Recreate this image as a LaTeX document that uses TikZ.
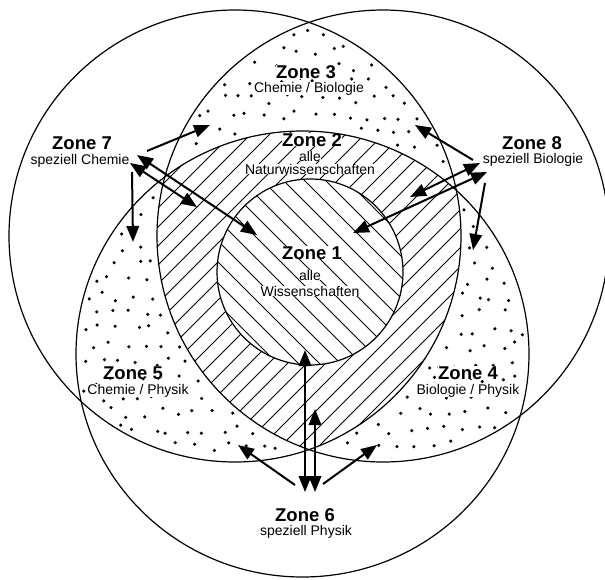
\documentclass[tikz,border=0pt]{standalone}
\usepackage{fontspec}
\setmainfont{Liberation Sans}
\usetikzlibrary{arrows.meta}

\begin{document}
\begin{tikzpicture}[
x=1pt,y=-1pt,
ring/.style={
draw=black,
line width=1.2pt
},
hatch/.style={
draw=black,
line width=0.9pt
},
zonetitle/.style={
anchor=base,
fill=white,
inner sep=0.3pt,
font=\fontsize{18.5}{20}\selectfont\bfseries
},
zonesub/.style={
anchor=base,
fill=white,
inner sep=0.3pt,
font=\fontsize{14}{16}\selectfont
},
arrow/.style={
-{Triangle[length=16pt,width=12.5pt]},
line width=2pt
},
dblarrow/.style={
{Triangle[length=16pt,width=12.5pt]}-{Triangle[length=16pt,width=12.5pt]},
line width=2pt
}
]

\useasboundingbox (0,0) rectangle (605,579);

\pgfmathsetseed{11}
\foreach \i in {0,...,36}{
\foreach \j in {0,...,35}{
\pgfmathsetmacro\px{\i*17+8*mod(\j,2)+10*rnd-5}
\pgfmathsetmacro\py{\j*16.5+10*rnd-5}
\pgfmathsetmacro\dl{veclen(\px-235,\py-236)}
\pgfmathsetmacro\dr{veclen(\px-383,\py-236)}
\pgfmathsetmacro\db{veclen((\px-302.5)/226.5,(\py-354)/223)}
\pgfmathtruncatemacro\dot{((\dl<222)&&(\dr<222)&&(\db>1.018))||((\dl<222)&&(\db<0.982)&&(\dr>230))||((\dr<222)&&(\db<0.982)&&(\dl>230))}
\ifnum\dot=1 \fill (\px,\py) circle[radius=1.75]; \fi
}}

\begin{scope}
\clip (235,236) circle[radius=226];
\clip (383,236) circle[radius=226];
\clip (302.5,354) ellipse[x radius=226.5,y radius=223];
\foreach \k in {-400,-381,...,720}
\draw[hatch] (\k,500) -- ++(500,-500);
\end{scope}

\fill[white] (310,272) circle[radius=93];
\begin{scope}
\clip (310,272) circle[radius=93];
\foreach \k in {0,21,...,420}
\draw[hatch] (\k,170) -- ++(210,210);
\end{scope}

\node[zonetitle] (z1) at (312,259) {Zone 1};
\node[zonesub] (z1a) at (310,280) {alle};
\node[zonesub] (z1b) at (310,296) {Wissenschaften};

\node[zonetitle] (z2) at (312,146) {Zone 2};
\node[zonesub] (z2a) at (310,161) {alle};
\node[zonesub] (z2b) at (310,174) {Naturwissenschaften};

\node[zonetitle] (z3) at (306,78) {Zone 3};
\node[zonesub] (z3a) at (309,92) {Chemie / Biologie};

\node[zonetitle] (z4) at (468,379) {Zone 4};
\node[zonesub] (z4a) at (468,394) {Biologie / Physik};

\node[zonetitle] (z5) at (133,379) {Zone 5};
\node[zonesub] (z5a) at (138,394) {Chemie / Physik};

\node[zonetitle] (z6) at (305,521) {Zone 6};
\node[zonesub] (z6a) at (306,535) {speziell Physik};

\node[zonetitle] (z7) at (82,149) {Zone 7};
\node[zonesub] (z7a) at (80,164) {speziell Chemie};

\node[zonetitle] (z8) at (532,149) {Zone 8};
\node[zonesub] (z8a) at (533,163) {speziell Biologie};

\draw[ring] (235,236) circle[radius=226];
\draw[ring] (383,236) circle[radius=226];
\draw[ring] (302.5,354) ellipse[x radius=226.5,y radius=223];
\draw[ring] (310,272) circle[radius=93];

\coordinate (c7a) at (147,151);
\coordinate (c7b) at (137,155);
\coordinate (c7c) at (130,163);
\coordinate (c7d) at (132,172);
\coordinate (c8a) at (473,160);
\coordinate (c8b) at (480,163);
\coordinate (c8c) at (487,172);
\coordinate (c8d) at (485,183);
\coordinate (c6a) at (295,485);
\coordinate (c6b) at (323,484);
\coordinate (c6c) at (305,492);
\coordinate (c6d) at (315,492);

\coordinate (t3l) at (210,125);
\coordinate (t1l) at (257,235);
\coordinate (t2l) at (197,207);
\coordinate (t5) at (133,242);
\coordinate (t3r) at (415,125);
\coordinate (t2r) at (410,197);
\coordinate (t1r) at (353,233);
\coordinate (t4) at (473,250);
\coordinate (t5b) at (238,445);
\coordinate (t4b) at (377,445);
\coordinate (t1b) at (305,350);
\coordinate (t2b) at (315,409);

\draw[arrow] (c7a) -- (t3l);
\draw[dblarrow] (c7b) -- (t1l);
\draw[dblarrow] (c7c) -- (t2l);
\draw[arrow] (c7d) -- (t5);

\draw[arrow] (c8a) -- (t3r);
\draw[dblarrow] (c8b) -- (t2r);
\draw[dblarrow] (c8c) -- (t1r);
\draw[arrow] (c8d) -- (t4);

\draw[arrow] (c6a) -- (t5b);
\draw[arrow] (c6b) -- (t4b);
\draw[dblarrow] (c6c) -- (t1b);
\draw[dblarrow] (c6d) -- (t2b);

\end{tikzpicture}
\end{document}
